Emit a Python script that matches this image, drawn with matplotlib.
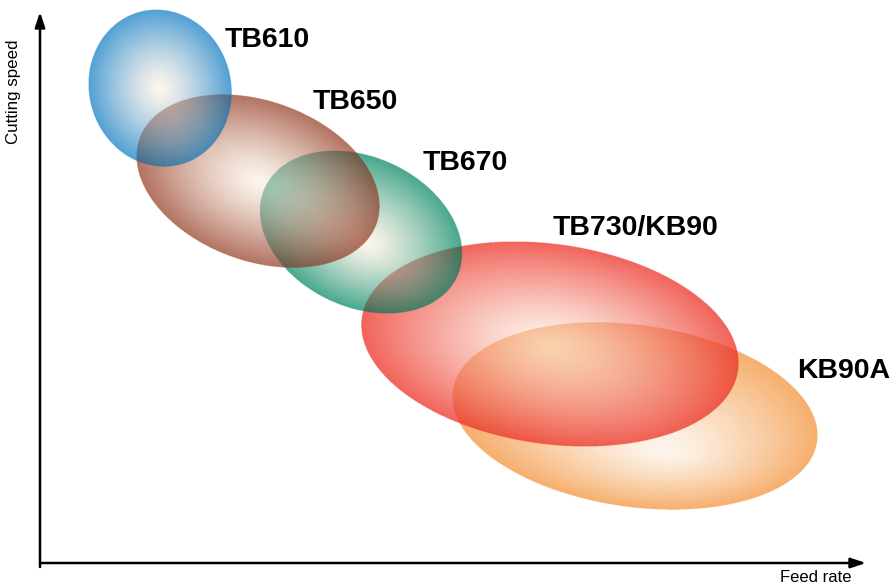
import numpy as np
import matplotlib.pyplot as plt
from matplotlib.colors import to_rgb

# grade regions (feed rate, cutting speed) in arbitrary units from the axis origin
grades = ['TB610', 'TB650', 'TB670', 'TB730/KB90', 'KB90A']
feed_center = [120, 218, 321, 510, 595]
speed_center = [475, 382, 331, 219, 147]
width = [158, 252, 212, 380, 368]
height = [142, 160, 150, 200, 182]
angle = [-75, -20, -25, -8, -8]
# where the light spot of each region sits, as a fraction of its semi-axes
focus_u = [0.0, 0.0, 0.1, 0.0, 0.2]
focus_v = [0.0, 0.0, -0.1, 0.0, -0.35]
edge_colors = ['#3a93cf', '#a85f4c', '#2f9c7e', '#ef4f45', '#f5a45a']
label_x = [185, 273, 383, 513, 757]
label_y = [523, 461, 400, 335, 192]

center_color = np.array(to_rgb('#fdf4ea'))

plt.rcParams['font.family'] = ['Liberation Sans', 'DejaVu Sans']
fig = plt.figure(figsize=(8.92, 5.88), dpi=100)
ax = fig.add_axes([0, 0, 1, 1])
x0, x1, y0, y1 = -40, 852, -25, 563

# regions are semi-transparent with a bit of multiply, so build one raster of the plot area
ss = 3
xs = np.linspace(x0, x1, (x1 - x0) * ss)
ys = np.linspace(y0, y1, (y1 - y0) * ss)
X, Y = np.meshgrid(xs, ys)
canvas = np.ones(X.shape + (3,))
# right-most region at the bottom, TB610 on top
for i in reversed(range(len(grades))):
    cx, cy = feed_center[i], speed_center[i]
    a, b = width[i] / 2, height[i] / 2
    th = np.deg2rad(angle[i])
    u = ((X - cx) * np.cos(th) + (Y - cy) * np.sin(th)) / a
    v = (-(X - cx) * np.sin(th) + (Y - cy) * np.cos(th)) / b
    inside = u ** 2 + v ** 2 <= 1
    fu, fv = focus_u[i], focus_v[i]
    du, dv = u - fu, v - fv
    dd = du ** 2 + dv ** 2 + 1e-12
    fd = fu * du + fv * dv
    ff = fu ** 2 + fv ** 2
    k = (-fd + np.sqrt(np.maximum(fd ** 2 - dd * (ff - 1), 0))) / dd
    t = np.clip(1 / k, 0, 1) ** 1.25
    edge = np.array(to_rgb(edge_colors[i]))
    rgb = center_color * (1 - t[..., None]) + edge * t[..., None]
    over = 0.85 * rgb + 0.15 * canvas
    mult = canvas * (1 - 0.92 * (1 - rgb))
    mixed = 0.55 * over + 0.45 * mult
    canvas = np.where(inside[..., None], mixed, canvas)

ax.imshow(canvas, extent=(x0, x1, y0, y1), origin='lower', interpolation='antialiased', zorder=1)
for i in range(len(grades)):
    ax.text(label_x[i], label_y[i], grades[i], fontsize=20.5, fontweight='bold',
            ha='left', va='center', zorder=10)

# axes arrows
arrow = dict(arrowstyle='-|>,head_length=0.9,head_width=0.3', lw=1.8, color='black',
             shrinkA=0, shrinkB=0)
ax.annotate('', xy=(826, 0), xytext=(0, 0), arrowprops=arrow, zorder=20)
ax.annotate('', xy=(0, 551), xytext=(0, -4), arrowprops=arrow, zorder=20)
ax.text(776, -15, 'Feed rate', fontsize=12, ha='center', va='center')
ax.text(-26, 471, 'Cutting speed', fontsize=12.2, ha='center', va='center', rotation=90)

ax.set_xlim(x0, x1)
ax.set_ylim(y0, y1)
ax.set_aspect('equal')
ax.axis('off')
fig.savefig('out.png', dpi=100)
